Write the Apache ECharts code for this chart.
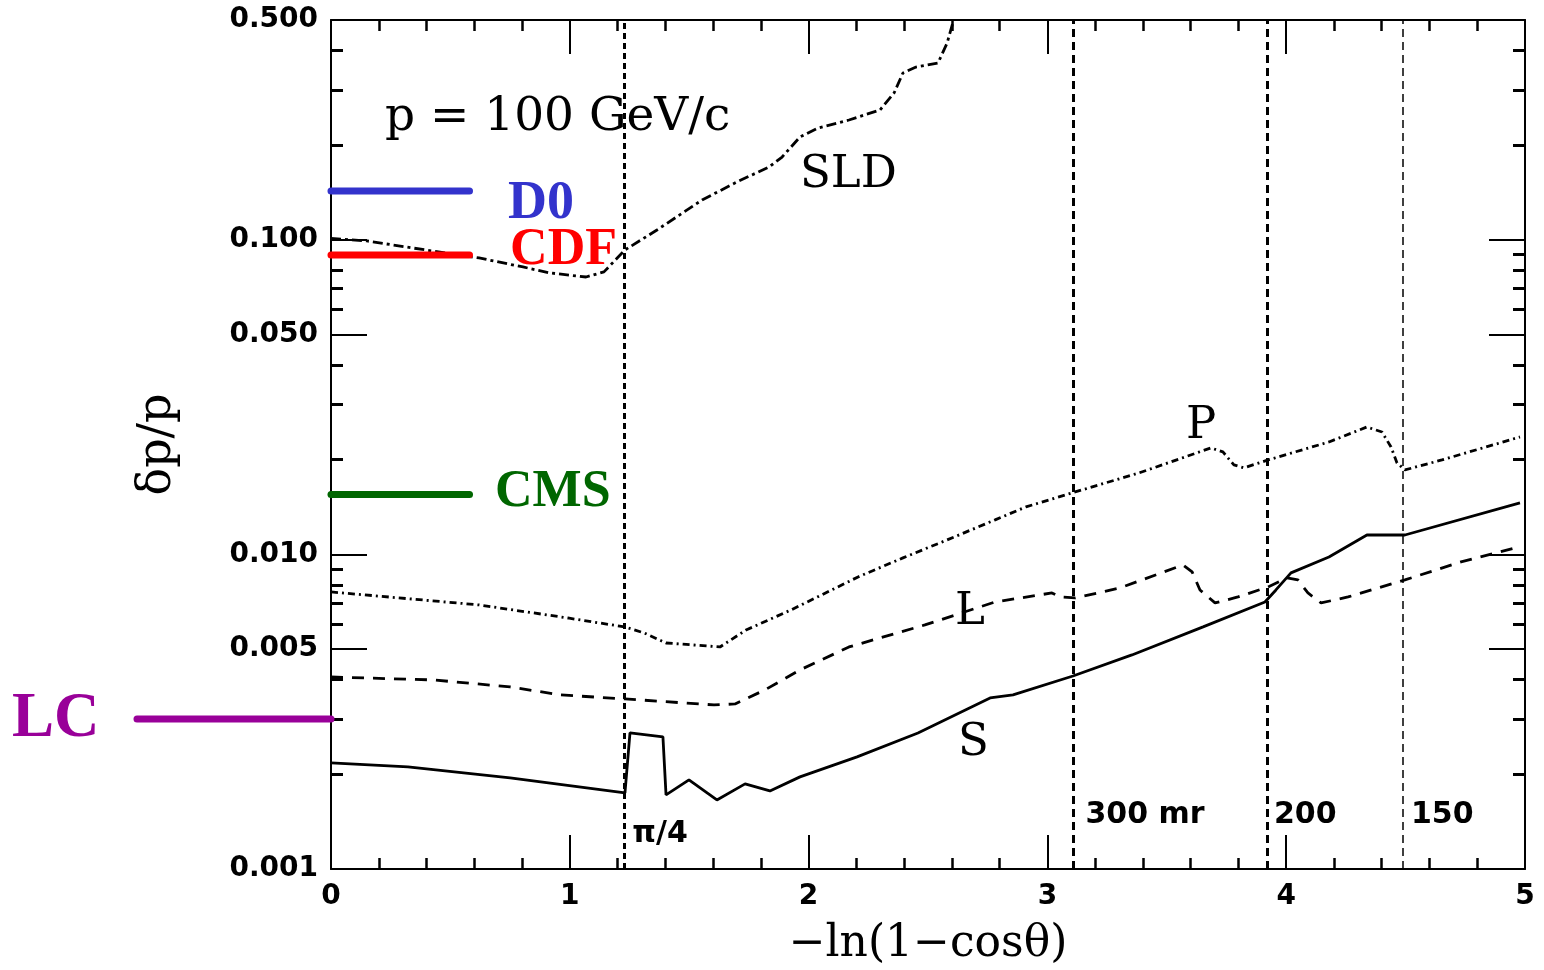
<!DOCTYPE html>
<html>
<head>
<meta charset="utf-8">
<script src="https://cdn.jsdelivr.net/npm/echarts@6/dist/echarts.min.js"></script>
<style>
  html, body { margin: 0; padding: 0; background: #ffffff; }
  #chart { width: 1544px; height: 970px; }
</style>
</head>
<body>
<div id="chart"></div>
<script>
// Momentum resolution dp/p at p = 100 GeV/c versus -ln(1 - cos(theta))

// SLD detector
const sldX = [0, 0.151, 0.339, 0.620, 0.804, 0.917, 1.068, 1.143, 1.231, 1.365, 1.554, 1.700, 1.834, 1.889, 1.964, 2.039, 2.169, 2.299, 2.358, 2.395, 2.450, 2.542, 2.580, 2.605];
const sldY = [0.101, 0.0992, 0.0943, 0.0876, 0.0820, 0.0785, 0.0762, 0.0791, 0.0929, 0.1075, 0.1339, 0.1528, 0.1705, 0.1834, 0.2124, 0.2268, 0.2405, 0.2588, 0.2931, 0.3393, 0.3544, 0.3650, 0.4225, 0.4929];

// P design
const pX = [0, 0.620, 0.992, 1.231, 1.311, 1.403, 1.629, 1.738, 1.926, 2.207, 2.395, 2.580, 2.781, 2.910, 3.116, 3.384, 3.685, 3.735, 3.781, 3.823, 3.924, 4.179, 4.338, 4.401, 4.439, 4.464, 4.497, 4.652, 4.979];
const pY = [0.00760, 0.00691, 0.00628, 0.00588, 0.00563, 0.00523, 0.00508, 0.00575, 0.00666, 0.00848, 0.00975, 0.01112, 0.01288, 0.01416, 0.01580, 0.01816, 0.02181, 0.02118, 0.01926, 0.01884, 0.01997, 0.02278, 0.02542, 0.02451, 0.02196, 0.01954, 0.01856, 0.01997, 0.02363];

// L design
const lX = [0, 0.431, 0.750, 0.963, 1.231, 1.604, 1.692, 1.817, 1.964, 2.169, 2.487, 2.781, 3.019, 3.053, 3.116, 3.304, 3.568, 3.606, 3.639, 3.702, 3.798, 3.924, 4.003, 4.049, 4.091, 4.146, 4.259, 4.497, 4.732, 4.979];
const lY = [0.004078, 0.003990, 0.003792, 0.003576, 0.003473, 0.003323, 0.003347, 0.003710, 0.004294, 0.005080, 0.005969, 0.007063, 0.007543, 0.007326, 0.007272, 0.007824, 0.009260, 0.008799, 0.007711, 0.007012, 0.007326, 0.007882, 0.008419, 0.008298, 0.007543, 0.007012, 0.007326, 0.008298, 0.009467, 0.010587];

// S design
const sX = [0, 0.322, 0.750, 1.231, 1.252, 1.390, 1.403, 1.499, 1.616, 1.734, 1.838, 1.964, 2.203, 2.458, 2.760, 2.856, 3.107, 3.354, 3.652, 3.911, 3.957, 4.020, 4.179, 4.338, 4.497, 4.979];
const sY = [0.002175, 0.002112, 0.001949, 0.001745, 0.002707, 0.002630, 0.001720, 0.001920, 0.001658, 0.001865, 0.001771, 0.001963, 0.002272, 0.002707, 0.003498, 0.003576, 0.004108, 0.004792, 0.005883, 0.007063, 0.007711, 0.008735, 0.009820, 0.01153, 0.01153, 0.01458];

// Reference resolutions of other experiments
const expNames  = ['D0', 'CDF', 'CMS', 'LC'];
const expLevels = [0.143, 0.0895, 0.0155, 0.003];
const expColors = ['#3333cc', '#ff0000', '#006600', '#990099'];

// Polar-angle boundaries (-ln(1-cos theta)) and their labels
const cutValues = [1.228, 3.109, 3.915, 4.489];
const cutLabels = ['π/4', '300 mr', '200', '150'];

// Axis ticks and labels
const xLabelValues = [0, 1, 2, 3, 4, 5];
const xMinorTicks = [0.2, 0.4, 0.6, 0.8, 1.2, 1.4, 1.6, 1.8, 2.2, 2.4, 2.6, 2.8, 3.2, 3.4, 3.6, 3.8, 4.2, 4.4, 4.6, 4.8];
const yLabelValues = [0.001, 0.005, 0.01, 0.05, 0.1, 0.5];
const yMinorTicks = [0.002, 0.003, 0.004, 0.006, 0.007, 0.008, 0.009, 0.02, 0.03, 0.04, 0.06, 0.07, 0.08, 0.09, 0.2, 0.3, 0.4];

const pair = (xs, ys) => xs.map((x, i) => [x, ys[i]]);

const chart = echarts.init(document.getElementById('chart'), null, { renderer: 'canvas' });

const BLACK = '#000000';
const tickFont = { fontFamily: 'DejaVu Sans', fontWeight: 'bold', fontSize: 28, color: BLACK };

function xAxisDef(position, ticks, tickLen, tickWidth, withLine, withLabels) {
  const ax = {
    type: 'value', gridIndex: 0, position: position, min: 0, max: 5,
    axisLine: { show: withLine, onZero: false, lineStyle: { color: BLACK, width: 2 } },
    axisTick: { show: true, inside: true, length: tickLen, customValues: ticks, lineStyle: { color: BLACK, width: tickWidth } },
    axisLabel: { show: false },
    splitLine: { show: false }
  };
  if (withLabels) {
    ax.axisLabel = Object.assign({ show: true, customValues: xLabelValues, margin: 14, formatter: v => String(Math.round(v)) }, tickFont);
    ax.name = '−ln(1−cosθ)';
    ax.nameLocation = 'middle';
    ax.nameGap = 54;
    ax.nameTextStyle = { fontFamily: 'DejaVu Serif', fontSize: 44, color: BLACK };
  }
  return ax;
}

function yAxisDef(position, ticks, tickLen, tickWidth, withLine, withLabels) {
  const ax = {
    type: 'log', logBase: 10, gridIndex: 0, position: position, min: 0.001, max: 0.5,
    axisLine: { show: withLine, onZero: false, lineStyle: { color: BLACK, width: 2 } },
    axisTick: { show: true, inside: true, length: tickLen, customValues: ticks, lineStyle: { color: BLACK, width: tickWidth } },
    axisLabel: { show: false },
    splitLine: { show: false }
  };
  if (withLabels) {
    ax.axisLabel = Object.assign({ show: true, customValues: yLabelValues, margin: 13, formatter: v => Number(v).toFixed(3) }, tickFont);
    ax.name = 'δp/p';
    ax.nameLocation = 'middle';
    ax.nameRotate = 90;
    ax.nameGap = 150;
    ax.nameTextStyle = { fontFamily: 'DejaVu Serif', fontSize: 46, color: BLACK };
  }
  return ax;
}

const curveStyle = (dash) => ({ color: BLACK, width: 2.8, type: dash });

const series = [
  { name: 'SLD', type: 'line', xAxisIndex: 0, yAxisIndex: 0, data: pair(sldX, sldY), showSymbol: false, lineStyle: curveStyle([10, 4, 3, 4]) },
  { name: 'P', type: 'line', xAxisIndex: 0, yAxisIndex: 0, data: pair(pX, pY), showSymbol: false, lineStyle: curveStyle([7, 4, 2, 4]) },
  { name: 'L', type: 'line', xAxisIndex: 0, yAxisIndex: 0, data: pair(lX, lY), showSymbol: false, lineStyle: curveStyle([12, 9]) },
  {
    name: 'S', type: 'line', xAxisIndex: 0, yAxisIndex: 0, data: pair(sX, sY), showSymbol: false, lineStyle: curveStyle('solid'),
    markLine: {
      silent: true, symbol: ['none', 'none'], label: { show: false }, animation: false,
      data: cutValues.map((v, i) => ({
        xAxis: v,
        lineStyle: { color: BLACK, width: i === 3 ? 1.5 : 3, type: i === 0 ? [6, 4] : [8, 5] }
      }))
    }
  }
];

// Experiment reference levels: D0, CDF, CMS inside the plot; LC to the left of the frame
expNames.forEach((name, i) => {
  const inside = name !== 'LC';
  series.push({
    name: name, type: 'line',
    xAxisIndex: inside ? 0 : 4, yAxisIndex: inside ? 0 : 4,
    data: inside ? [[0, expLevels[i]], [0.58, expLevels[i]]] : [[0, expLevels[i]], [1, expLevels[i]]],
    showSymbol: false, clip: false, z: 5,
    lineStyle: { color: expColors[i], width: 7, cap: 'round' }
  });
});

chart.setOption({
  animation: false,
  backgroundColor: '#ffffff',
  grid: [
    { left: 331, right: 19, top: 20, bottom: 101, outerBoundsMode: 'none' },
    { left: 137, width: 194, top: 20, bottom: 101, outerBoundsMode: 'none' }
  ],
  xAxis: [
    xAxisDef('bottom', xMinorTicks, 11, 2.5, true, true),
    xAxisDef('bottom', xLabelValues, 34, 2, false, false),
    xAxisDef('top', xMinorTicks, 11, 2.5, true, false),
    xAxisDef('top', xLabelValues, 34, 2, false, false),
    { type: 'value', gridIndex: 1, min: 0, max: 1, show: false }
  ],
  yAxis: [
    yAxisDef('left', yMinorTicks, 12, 3, true, true),
    yAxisDef('left', yLabelValues, 36, 2, false, false),
    yAxisDef('right', yMinorTicks, 12, 3, true, false),
    yAxisDef('right', yLabelValues, 36, 2, false, false),
    { type: 'log', logBase: 10, gridIndex: 1, min: 0.001, max: 0.5, show: false }
  ],
  series: series
});

// Text annotations placed through the main grid's coordinate system
const toPx = (x, y) => chart.convertToPixel({ xAxisIndex: 0, yAxisIndex: 0 }, [x, y]);
const textEl = (text, px, py, font, color, align) => ({
  type: 'text', silent: true, z: 10, x: px, y: py,
  style: { text: text, font: font, fill: color, textAlign: align || 'left', textVerticalAlign: 'middle' }
});

const serif = '"DejaVu Serif", serif';
const graphics = [];
[
  ['p = 100 GeV/c', 0.226, 0.244, '47px ' + serif],
  ['SLD', 1.964, 0.1608, '45px ' + serif],
  ['P', 3.580, 0.02563, '45px ' + serif],
  ['L', 2.613, 0.00657, '45px ' + serif],
  ['S', 2.626, 0.002518, '45px ' + serif]
].forEach(a => {
  const p = toPx(a[1], a[2]);
  graphics.push(textEl(a[0], p[0], p[1], a[3], BLACK));
});

// Labels beside the angular boundaries
cutValues.forEach((v, i) => {
  const p = toPx(v, i === 0 ? 0.001293 : 0.001486);
  graphics.push(textEl(cutLabels[i], p[0] + (i === 1 ? 12 : 8), p[1], 'bold 30px "DejaVu Sans", sans-serif', BLACK));
});

// Experiment names next to their levels
const expLabelX = [0.741, 0.750, 0.687];
const expLabelDy = [13, -4, -2, 1];
const expFonts = ['bold 54px "Liberation Serif", serif', 'bold 52px "Liberation Serif", serif', 'bold 52px "Liberation Serif", serif', 'bold 63px "Liberation Serif", serif'];
expNames.forEach((name, i) => {
  const yPx = toPx(0, expLevels[i])[1] + expLabelDy[i];
  const xPx = i < 3 ? toPx(expLabelX[i], expLevels[i])[0] : 12;
  graphics.push(textEl(name, xPx, yPx, expFonts[i], expColors[i]));
});

chart.setOption({ graphic: graphics });
</script>
</body>
</html>
